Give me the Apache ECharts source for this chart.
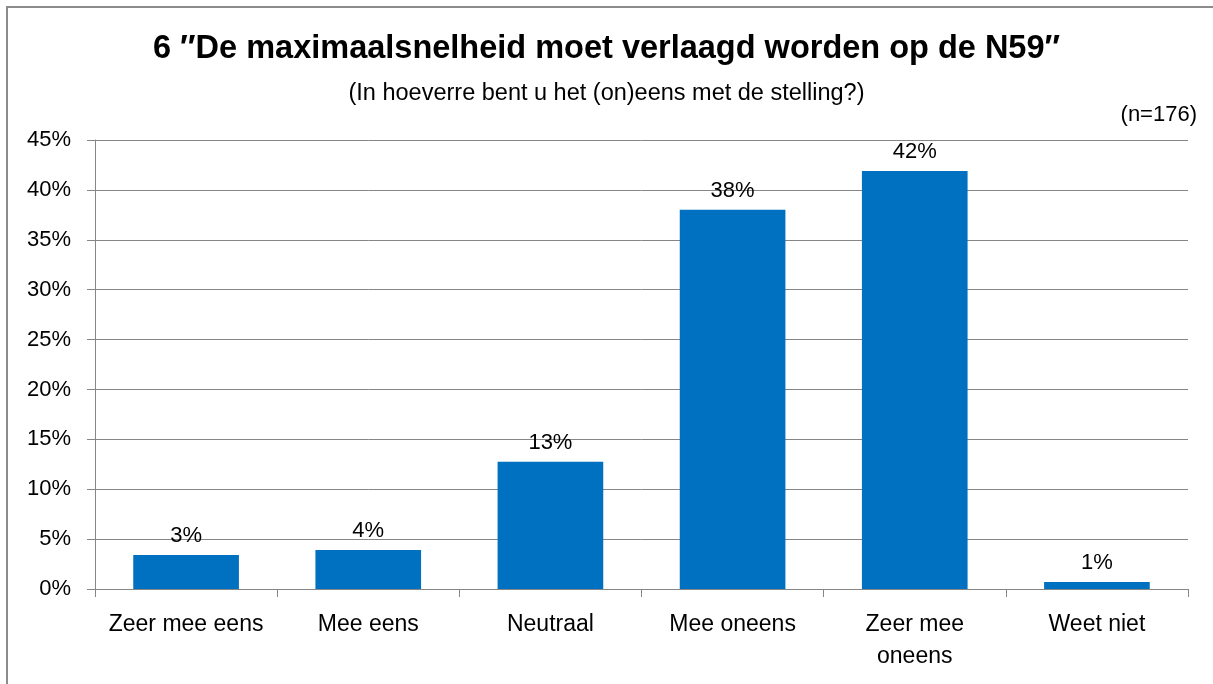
<!DOCTYPE html>
<html>
<head>
<meta charset="utf-8">
<script src="https://cdn.jsdelivr.net/npm/echarts@6/dist/echarts.min.js"></script>
<style>
    html, body { margin: 0; padding: 0; background: #fff; }
    #chart { width: 1213px; height: 684px; }
</style>
</head>
<body>
<div id="chart"></div>
<script>
    var categories = ['Zeer mee eens', 'Mee eens', 'Neutraal', 'Mee oneens', 'Zeer mee\noneens', 'Weet niet'];
    var values = [3.4, 3.9, 12.75, 38.0, 41.9, 0.7];
    var titleText = '6 \u2032\u2032De maximaalsnelheid moet verlaagd worden op de N59\u2032\u2032';
    var subText = '(In hoeverre bent u het (on)eens met de stelling?)';
    var nText = '(n=176)';

    var font = '"Liberation Sans", Arial, sans-serif';
    var chart = echarts.init(document.getElementById('chart'));

    chart.setOption({
        animation: false,
        textStyle: { fontFamily: font },
        title: {
            text: titleText,
            subtext: subText,
            left: 'center',
            top: 28,
            itemGap: 16,
            textStyle: { fontSize: 32.5, fontWeight: 'bold', color: '#000', fontFamily: font },
            subtextStyle: { fontSize: 23.5, color: '#000', fontFamily: font }
        },
        graphic: [
            {
                type: 'rect',
                shape: { x: 7, y: 7, width: 1250, height: 720 },
                style: { fill: 'none', stroke: '#8c8c8c', lineWidth: 2 }
            },
            {
                type: 'text',
                right: 16,
                top: 104,
                style: { text: nText, fontSize: 22, fill: '#000', fontFamily: font }
            }
        ],
        grid: { left: 95, right: 25, top: 140, bottom: 95 },
        xAxis: {
            type: 'category',
            data: categories,
            axisLine: { lineStyle: { color: '#868686', width: 1 } },
            axisTick: { show: true, length: 8, lineStyle: { color: '#868686' } },
            axisLabel: { fontSize: 23, color: '#000', margin: 20, lineHeight: 32, interval: 0 }
        },
        yAxis: {
            type: 'value',
            min: 0,
            max: 45,
            interval: 5,
            axisLine: { show: true, lineStyle: { color: '#868686', width: 1 } },
            axisTick: { show: true, length: 8, lineStyle: { color: '#868686' } },
            axisLabel: { fontSize: 22, color: '#000', margin: 24, formatter: '{value}%' },
            splitLine: { show: true, lineStyle: { color: '#868686', width: 1 } }
        },
        series: [
            {
                type: 'bar',
                data: values,
                barCategoryGap: '42%',
                itemStyle: { color: '#0070c0' },
                label: {
                    show: true,
                    position: 'top',
                    distance: 8,
                    fontSize: 22,
                    color: '#000',
                    formatter: function (p) { return Math.round(p.value) + '%'; }
                }
            }
        ]
    });
</script>
</body>
</html>
